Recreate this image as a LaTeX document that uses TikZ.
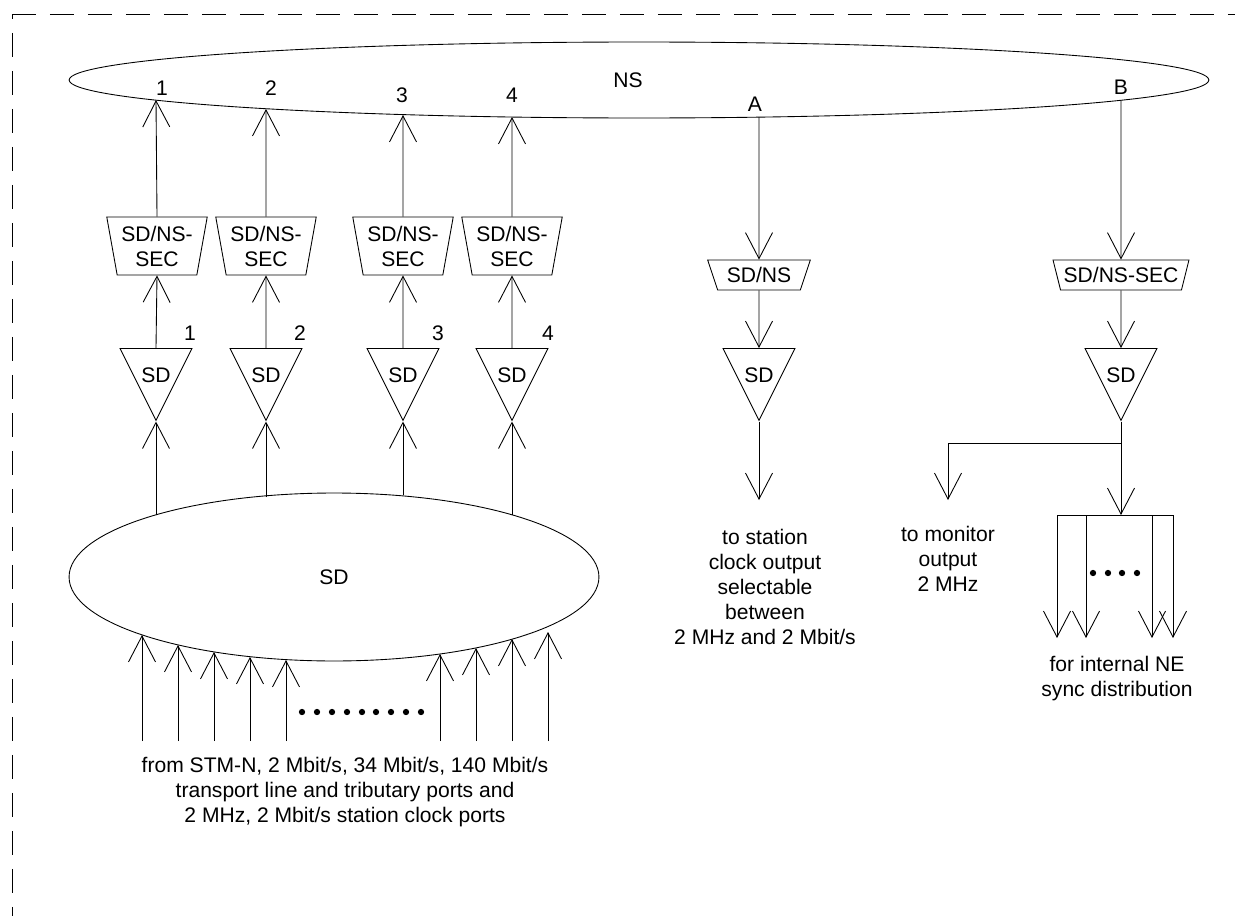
\documentclass[tikz,border=0pt]{standalone}
\usepackage{fontspec}
\setmainfont{Liberation Sans}
\usepackage{tikz}
\usetikzlibrary{arrows.meta,positioning,shapes.geometric}

\begin{document}
\begin{tikzpicture}[
    x=0.02cm, y=-0.02cm,
    line width=0.5pt,
    font=\fontsize{12}{14.2}\selectfont,
    dashframe/.style={dash pattern=on 0.48cm off 0.28cm},
    arrow/.style={-{Straight Barb[length=5.2mm, width=5.4mm]}},
    oval/.style={draw, ellipse, inner sep=0pt},
    secbox/.style={draw, trapezium, shape border rotate=180, trapezium stretches=true, inner sep=0pt, align=center},
    sdtri/.style={draw, isosceles triangle, shape border rotate=-90, isosceles triangle stretches=true, minimum width=1.44cm, minimum height=1.44cm, inner sep=0pt, anchor=north, label={[anchor=center, yshift=-0.54cm]north:SD}},
    txt/.style={align=center}
]
\useasboundingbox (0,0) rectangle (1235,916);
\draw[dashframe] (12,14) -- (1235,14);
\draw[dashframe, dash phase=0.38cm] (12,14) -- (12,916);

\node[oval, minimum width=22.8cm, minimum height=1.52cm, label={[xshift=-0.22cm]center:NS}] (NS) at (639,80) {};
\node[oval, minimum width=10.6cm, minimum height=3.36cm] (SD) at (334,577) {SD};

\coordinate (p1) at (156,100);
\coordinate (p2) at (266,109);
\coordinate (p3) at (403,115);
\coordinate (p4) at (512,117);
\coordinate (pA) at (759,117);
\coordinate (pB) at (1121,100);
\coordinate (s1) at (156,515);
\coordinate (s2) at (266,497);
\coordinate (s3) at (403,495);
\coordinate (s4) at (512,515);

\node[secbox, trapezium angle=77, minimum width=2.02cm, minimum height=1.16cm] (sec1) at (157,246) {SD/NS-\\SEC};
\node[secbox, trapezium angle=77, minimum width=2.02cm, minimum height=1.16cm] (sec2) at (266,246) {SD/NS-\\SEC};
\node[secbox, trapezium angle=77, minimum width=2.02cm, minimum height=1.16cm] (sec3) at (403,246) {SD/NS-\\SEC};
\node[secbox, trapezium angle=77, minimum width=2.02cm, minimum height=1.16cm] (sec4) at (512,246) {SD/NS-\\SEC};
\node[secbox, trapezium angle=63.4, minimum width=2.06cm, minimum height=0.6cm] (secA) at (759,275) {SD/NS};
\node[secbox, trapezium angle=66.6, minimum width=2.74cm, minimum height=0.6cm, inner xsep=-2pt] (secB) at (1121,275) {SD/NS-SEC};

\node[sdtri] (tri1) at (156,348) {};
\node[sdtri] (tri2) at (266,348) {};
\node[sdtri] (tri3) at (403,348) {};
\node[sdtri] (tri4) at (512,348) {};
\node[sdtri] (triA) at (759,348) {};
\node[sdtri] (triB) at (1121,348) {};

\node (n1) at (162,88) {1};
\node (n2) at (271,88) {2};
\node (n3) at (402,95) {3};
\node (n4) at (512,95) {4};
\node (nA) at (755,104) {A};
\node (nB) at (1121,87) {B};
\node (m1) at (190,333) {1};
\node (m2) at (300,333) {2};
\node (m3) at (438,333) {3};
\node (m4) at (548,333) {4};

\draw[arrow] (sec1.north) -- (p1);
\draw[arrow] (sec2.north) -- (p2);
\draw[arrow] (sec3.north) -- (p3);
\draw[arrow] (sec4.north) -- (p4);
\draw[arrow] (tri1.north) -- (sec1.south);
\draw[arrow] (tri2.north) -- (sec2.south);
\draw[arrow] (tri3.north) -- (sec3.south);
\draw[arrow] (tri4.north) -- (sec4.south);
\draw[arrow] (s1) -- (tri1.apex);
\draw[arrow] (s2) -- (tri2.apex);
\draw[arrow] (s3) -- (tri3.apex);
\draw[arrow] (s4) -- (tri4.apex);

\draw[arrow] (pA) -- (secA.north);
\draw[arrow] (secA.south) -- (triA.north);
\coordinate (outA) at (759,500);
\draw[arrow] (triA.apex) -- (outA);
\node[txt] (txtA) at (765,587) {to station\\clock output\\selectable\\between\\2 MHz and 2 Mbit/s};

\draw[arrow] (pB) -- (secB.north);
\draw[arrow] (secB.south) -- (triB.north);
\coordinate (jB) at (1121,443);
\coordinate (outM) at (948,500);
\coordinate (fanC) at (1121,515);
\coordinate (f1) at (1057,515);
\coordinate (f2) at (1086,515);
\coordinate (f3) at (1152,515);
\coordinate (f4) at (1173,515);
\draw (triB.apex) -- (jB);
\draw[arrow] (jB) -| (outM);
\draw[arrow] (jB) -- (fanC);
\draw (f1) -- (f4);
\draw[arrow] (f1) -- ++(0,123);
\draw[arrow] (f2) -- ++(0,123);
\draw[arrow] (f3) -- ++(0,123);
\draw[arrow] (f4) -- ++(0,123);
\fill (1093,573) circle[radius=1.8pt] (1108,573) circle[radius=1.8pt] (1122,573) circle[radius=1.8pt] (1137,573) circle[radius=1.8pt];
\node[txt] (txtM) at (948,559) {to monitor\\output\\2 MHz};
\node[txt] (txtF) at (1117,679) {for internal NE\\sync distribution};

\coordinate (inbase) at (0,741);
\coordinate (in1) at (142,635);
\coordinate (in2) at (178,645);
\coordinate (in3) at (214,652);
\coordinate (in4) at (250,657);
\coordinate (in5) at (286,660);
\coordinate (in6) at (440,654);
\coordinate (in7) at (476,648);
\coordinate (in8) at (512,639);
\coordinate (in9) at (548,632);
\draw[arrow] (in1 |- inbase) -- (in1);
\draw[arrow] (in2 |- inbase) -- (in2);
\draw[arrow] (in3 |- inbase) -- (in3);
\draw[arrow] (in4 |- inbase) -- (in4);
\draw[arrow] (in5 |- inbase) -- (in5);
\draw[arrow] (in6 |- inbase) -- (in6);
\draw[arrow] (in7 |- inbase) -- (in7);
\draw[arrow] (in8 |- inbase) -- (in8);
\draw[arrow] (in9 |- inbase) -- (in9);
\fill (302,712) circle[radius=1.8pt] (317,712) circle[radius=1.8pt] (332,712) circle[radius=1.8pt] (347,712) circle[radius=1.8pt] (362,712) circle[radius=1.8pt] (376,712) circle[radius=1.8pt] (391,712) circle[radius=1.8pt] (406,712) circle[radius=1.8pt] (421,712) circle[radius=1.8pt];
\node[txt] (txtIn) at (345,792) {from STM-N, 2 Mbit/s, 34 Mbit/s, 140 Mbit/s\\transport line and tributary ports and\\2 MHz, 2 Mbit/s station clock ports};
\end{tikzpicture}
\end{document}
